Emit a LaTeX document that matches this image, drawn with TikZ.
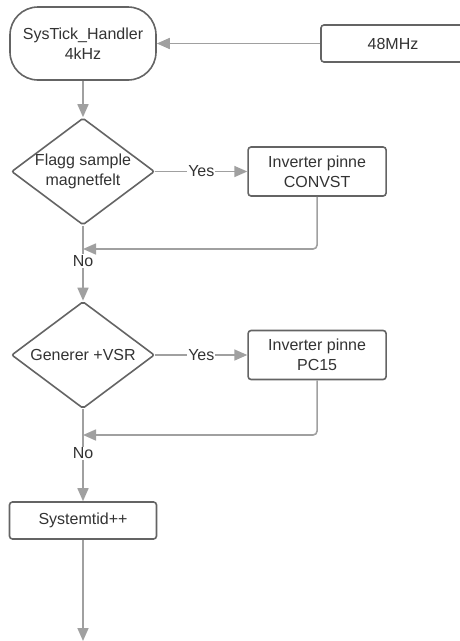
\documentclass[tikz,border=0pt]{standalone}
\usepackage{fontspec}
\setmainfont{Liberation Sans}
\usepackage{tikz}
\usetikzlibrary{arrows.meta,positioning,shapes.geometric}
\definecolor{ink}{HTML}{333333}
\definecolor{edge}{HTML}{646464}
\definecolor{wire}{HTML}{A0A0A0}
\tikzset{
  term/.style ={rounded corners=28pt,draw=edge,line width=1.6pt,fill=white,text=ink,
                minimum width=146pt,minimum height=73pt,align=center,inner sep=2pt},
  box/.style  ={rounded corners=3pt,draw=edge,line width=1.6pt,fill=white,text=ink,
                minimum width=138pt,minimum height=49pt,align=center,inner sep=2pt},
  ask/.style  ={diamond,aspect=1.34,rounded corners=2pt,draw=edge,line width=1.6pt,
                fill=white,text=ink,minimum width=143pt,minimum height=107pt,
                align=center,inner sep=0pt},
  flow/.style ={-{Triangle[length=13pt,width=11pt]},line width=1.6pt,draw=wire},
  lbl/.style  ={fill=white,text=ink,inner sep=1pt}
}

\begin{document}
\begin{tikzpicture}[x=1pt,y=-1pt,every node/.style={font=\fontsize{16}{20}\selectfont}]
  \useasboundingbox (0,0) rectangle (459,641);
  \node[term] (tick) at (83,43.5) {SysTick\_Handler\\4kHz};
  \node[box,minimum width=144pt,minimum height=37pt] (clk) at (393,43.5) {48MHz};
  \node[ask] (flag) at (83,171.5) {Flagg sample\\magnetfelt};
  \node[box,right=92pt of flag] (conv) {Inverter pinne\\CONVST};
  \node[ask] (gen) at (83,355) {Generer +VSR};
  \node[box,right=92pt of gen] (pc) {Inverter pinne\\PC15};
  \node[box,minimum width=147pt,minimum height=37pt] (sys) at (83,520.5) {Systemtid++};
  \coordinate (ret1) at (83,249);
  \coordinate (ret2) at (83,435);
  \coordinate (out) at (83,641);
  \draw[flow] (clk.west) -- (tick.east);
  \draw[flow] (tick) -- (flag);
  \draw[flow] (flag) -- node[lbl] {Yes} (conv);
  \draw[flow,rounded corners=4pt] (conv.south) |- (ret1);
  \draw[flow] (flag) -- node[lbl,pos=0.47] {No} (gen);
  \draw[flow] (gen) -- node[lbl] {Yes} (pc);
  \draw[flow,rounded corners=4pt] (pc.south) |- (ret2);
  \draw[flow] (gen) -- node[lbl,pos=0.48] {No} (sys);
  \draw[flow] (sys) -- (out);
\end{tikzpicture}
\end{document}
